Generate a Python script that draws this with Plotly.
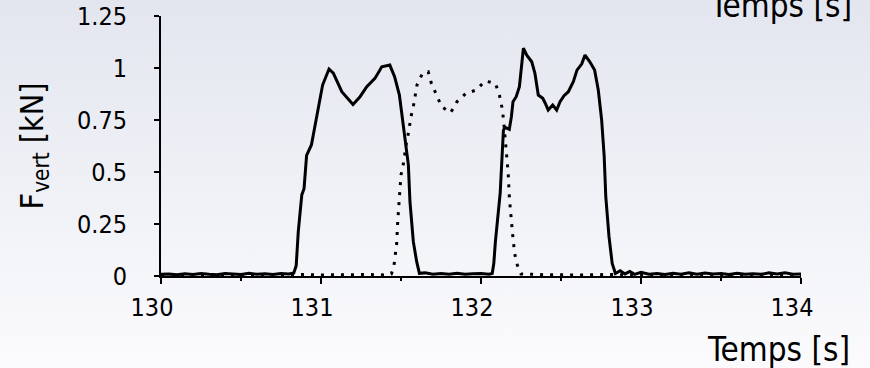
import base64
import plotly.graph_objects as go

# ---------------- data ----------------
x_solid = [130.00, 130.05, 130.10, 130.15, 130.20, 130.25, 130.30, 130.35, 130.40, 130.45,
           130.50, 130.55, 130.60, 130.65, 130.70, 130.75, 130.80, 130.83, 130.845, 130.858,
           130.88, 130.894, 130.91, 130.94, 130.97, 131.01, 131.05, 131.077, 131.13, 131.20,
           131.244, 131.286, 131.337, 131.38, 131.43, 131.46, 131.49, 131.52, 131.546, 131.556,
           131.577, 131.598, 131.615, 131.65, 131.70, 131.75, 131.80, 131.85, 131.90, 131.95,
           132.00, 132.05, 132.07, 132.08, 132.09, 132.12, 132.14, 132.15, 132.177, 132.19,
           132.20, 132.22, 132.24, 132.265, 132.286, 132.317, 132.337, 132.358, 132.386, 132.40,
           132.42, 132.448, 132.473, 132.494, 132.519, 132.546, 132.577, 132.60, 132.63, 132.65,
           132.68, 132.71, 132.733, 132.754, 132.77, 132.78, 132.80, 132.82, 132.84, 132.87,
           132.90, 132.93, 132.96, 133.00, 133.05, 133.10, 133.15, 133.20, 133.25, 133.30,
           133.35, 133.40, 133.45, 133.50, 133.55, 133.60, 133.65, 133.70, 133.75, 133.80,
           133.85, 133.90, 133.95, 134.00]
y_solid = [0.008, 0.010, 0.006, 0.011, 0.007, 0.012, 0.008, 0.006, 0.012, 0.009,
           0.007, 0.013, 0.008, 0.011, 0.007, 0.012, 0.010, 0.015, 0.050, 0.213,
           0.390, 0.420, 0.580, 0.630, 0.758, 0.918, 0.995, 0.975, 0.886, 0.825,
           0.862, 0.910, 0.950, 1.006, 1.014, 0.958, 0.870, 0.700, 0.534, 0.357,
           0.165, 0.069, 0.013, 0.015, 0.008, 0.012, 0.009, 0.013, 0.008, 0.011,
           0.012, 0.009, 0.012, 0.060, 0.165, 0.400, 0.700, 0.715, 0.705, 0.766,
           0.838, 0.862, 0.910, 1.095, 1.062, 1.030, 0.975, 0.870, 0.854, 0.833,
           0.798, 0.822, 0.798, 0.838, 0.867, 0.886, 0.934, 0.990, 1.020, 1.062,
           1.030, 0.990, 0.894, 0.750, 0.574, 0.380, 0.190, 0.060, 0.012, 0.025,
           0.010, 0.022, 0.008, 0.018, 0.009, 0.012, 0.007, 0.013, 0.009, 0.016,
           0.008, 0.014, 0.010, 0.012, 0.007, 0.013, 0.009, 0.011, 0.008, 0.015,
           0.010, 0.016, 0.009, 0.010]

x_dotted = [130.00, 130.10, 130.20, 130.30, 130.40, 130.50, 130.60, 130.70, 130.80, 130.90,
            131.00, 131.10, 131.20, 131.30, 131.40, 131.44, 131.456, 131.473, 131.48, 131.49,
            131.50, 131.515, 131.535, 131.55, 131.56, 131.577, 131.587, 131.60, 131.635, 131.67,
            131.69, 131.72, 131.754, 131.81, 131.85, 131.906, 131.97, 132.025, 132.09, 132.115,
            132.13, 132.14, 132.156, 132.17, 132.177, 132.186, 132.196, 132.21, 132.227, 132.25,
            132.40, 132.60, 132.80, 133.00, 133.20, 133.40, 133.60, 133.80, 134.00]
y_dotted = [0.005, 0.007, 0.004, 0.006, 0.005, 0.007, 0.004, 0.006, 0.005, 0.007,
            0.005, 0.006, 0.004, 0.007, 0.005, 0.010, 0.050, 0.157, 0.270, 0.373,
            0.486, 0.540, 0.646, 0.700, 0.758, 0.814, 0.862, 0.918, 0.975, 0.982,
            0.926, 0.870, 0.814, 0.785, 0.838, 0.878, 0.894, 0.9375, 0.926, 0.870,
            0.814, 0.758, 0.606, 0.494, 0.380, 0.277, 0.213, 0.109, 0.053, 0.010,
            0.006, 0.005, 0.007, 0.005, 0.006, 0.004, 0.006, 0.005, 0.005]

x_ticks = [130, 131, 132, 133, 134]
y_ticks = [0, 0.25, 0.5, 0.75, 1, 1.25]
y_tick_labels = ["0", "0.25", "0.5", "0.75", "1", "1.25"]
x_title = "Temps [s]"
y_title = "F<sub>vert</sub> [kN]"

FONT = "DejaVu Sans Condensed, DejaVu Sans, sans-serif"

# ---------------- background gradient ----------------
svg = ("<svg xmlns='http://www.w3.org/2000/svg' width='10' height='100' preserveAspectRatio='none'>"
       "<defs><linearGradient id='g' x1='0' y1='0' x2='0' y2='1'>"
       "<stop offset='0' stop-color='#e3e6ef'/><stop offset='1' stop-color='#fbfbfd'/>"
       "</linearGradient></defs><rect width='10' height='100' fill='url(#g)'/></svg>")
bg_src = "data:image/svg+xml;base64," + base64.b64encode(svg.encode()).decode()

W, H = 870, 368
L, R, T, B = 161, 69, 16, 92
pw, ph = W - L - R, H - T - B

fig = go.Figure()
fig.add_trace(go.Scatter(x=x_dotted, y=y_dotted, mode="lines",
                         line=dict(color="black", width=3, dash="3px,7px"),
                         showlegend=False, hoverinfo="skip"))
fig.add_trace(go.Scatter(x=x_solid, y=y_solid, mode="lines",
                         line=dict(color="black", width=3),
                         showlegend=False, hoverinfo="skip"))

fig.update_layout(
    width=W, height=H,
    margin=dict(l=L, r=R, t=T, b=B, pad=0, autoexpand=False),
    paper_bgcolor="#eef0f5",
    plot_bgcolor="rgba(0,0,0,0)",
    font=dict(family=FONT, color="black", size=25),
    images=[dict(source=bg_src, xref="paper", yref="paper",
                 x=-L / pw, y=1 + T / ph, sizex=W / pw, sizey=H / ph,
                 xanchor="left", yanchor="top", sizing="stretch", layer="below")],
    xaxis=dict(range=[130, 134], tickvals=x_ticks, showgrid=False, zeroline=False,
               automargin=False,
               showline=True, linecolor="black", linewidth=2,
               ticks="outside", ticklen=6, tickwidth=2, tickcolor="black",
               minor=dict(ticks="outside", ticklen=3, tickwidth=2, tickcolor="black",
                          dtick=0.5, tick0=130, showgrid=False),
               tickfont=dict(size=25), ticklabelshift=-9, ticklabelstandoff=2),
    yaxis=dict(range=[0, 1.25], tickvals=y_ticks, ticktext=y_tick_labels,
               showgrid=False, zeroline=False, automargin=False,
               showline=True, linecolor="black", linewidth=2,
               ticks="outside", ticklen=5, tickwidth=2, tickcolor="black",
               tickfont=dict(size=25), ticklabelstandoff=22,
               title=dict(text=y_title, font=dict(size=32), standoff=24)),
    annotations=[
        dict(text=x_title, xref="paper", yref="paper", x=(852 - L) / pw, y=(276 - 349) / ph,
             xanchor="right", yanchor="middle", showarrow=False, font=dict(size=33)),
        dict(text=x_title, xref="paper", yref="paper", x=(854 - L) / pw, y=(276 - 6) / ph,
             xanchor="right", yanchor="middle", showarrow=False, font=dict(size=33)),
    ],
)

fig.write_html("out.html", config={"displayModeBar": False},
               post_script="document.body.style.margin='0';")
